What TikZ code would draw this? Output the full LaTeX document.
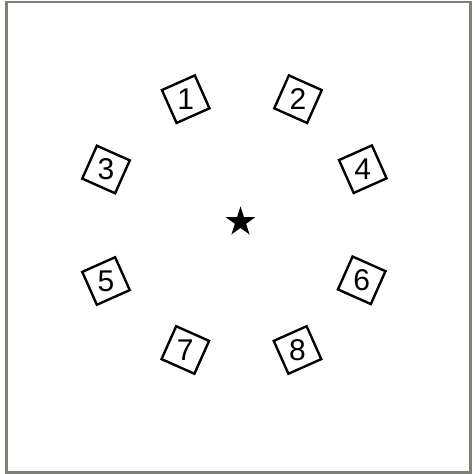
\documentclass[tikz,border=0pt]{standalone}
\usepackage{fontspec}
\setmainfont{Liberation Sans}
\usetikzlibrary{shapes.geometric}
\definecolor{framegray}{RGB}{128,128,118}
\tikzset{
  numbox/.style={draw=black, line width=1.2pt, minimum size=18pt, inner sep=0pt},
  numtext/.style={inner sep=0pt, font=\fontsize{15}{18}\selectfont},
  centerstar/.style={star, star points=5, star point ratio=2.618, fill=black,
    draw=none, minimum size=15.5pt, inner sep=0pt}
}
\begin{document}
\begin{tikzpicture}[x=0.5pt, y=-0.5pt]
  \useasboundingbox (0,0) rectangle (474,474);
  \fill[white] (0,0) rectangle (474,474);
  \draw[framegray, line width=1.2pt] (6.5,2) rectangle (470.5,472.5);
  \node[centerstar] (c) at (240.5,222) {};
  \node[numbox, rotate=24]  (n1) at (185.7,99.2) {};
  \node[numbox, rotate=-24] (n2) at (298,99.2) {};
  \node[numbox, rotate=-24] (n3) at (106,169.5) {};
  \node[numbox, rotate=24]  (n4) at (362.8,169.2) {};
  \node[numbox, rotate=24]  (n5) at (106,281) {};
  \node[numbox, rotate=-24] (n6) at (361.7,280.3) {};
  \node[numbox, rotate=-24] (n7) at (185.3,350) {};
  \node[numbox, rotate=24]  (n8) at (297.5,350) {};
  \node[numtext] (t1) at (n1) {1};
  \node[numtext] (t2) at (n2) {2};
  \node[numtext] (t3) at (n3) {3};
  \node[numtext] (t4) at (n4) {4};
  \node[numtext] (t5) at (n5) {5};
  \node[numtext] (t6) at (n6) {6};
  \node[numtext] (t7) at (n7) {7};
  \node[numtext] (t8) at (n8) {8};
\end{tikzpicture}
\end{document}
